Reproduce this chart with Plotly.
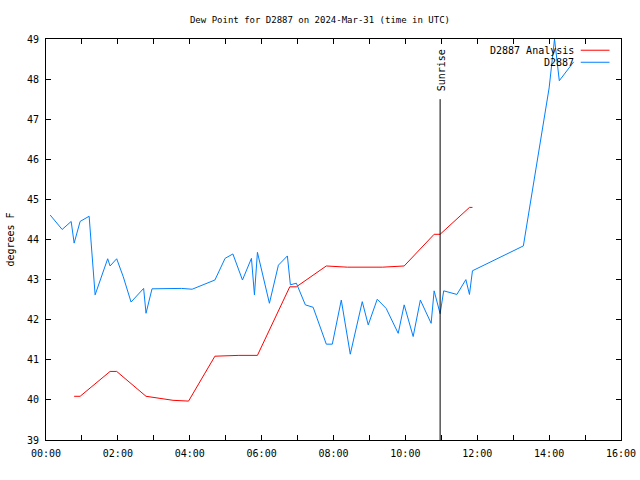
import plotly.graph_objects as go
from datetime import datetime, timedelta

DAY = "2024-03-31"

analysis_times = ["00:47", "00:57", "01:47", "01:58", "02:47", "03:02", "03:32", "03:58",
                  "04:42", "05:22", "05:53", "06:47", "06:58", "07:48", "08:23", "09:22",
                  "09:58", "10:48", "10:58", "11:47", "11:52"]
analysis_vals = [40.09, 40.09, 40.71, 40.71, 40.09, 40.06, 39.99, 39.97,
                 41.09, 41.11, 41.11, 42.82, 42.82, 43.34, 43.31, 43.31,
                 43.34, 44.13, 44.13, 44.80, 44.80]

obs_times = ["00:07", "00:27", "00:42", "00:47", "00:57", "01:12", "01:22", "01:43", "01:47",
             "01:58", "02:09", "02:22", "02:43", "02:47", "02:57", "03:46", "04:04", "04:42",
             "04:59", "05:12", "05:28", "05:43", "05:48", "05:53", "06:13", "06:28", "06:43",
             "06:48", "06:58", "07:13", "07:26", "07:48", "07:58", "08:13", "08:28", "08:48",
             "08:58", "09:13", "09:28", "09:48", "09:58", "10:13", "10:25", "10:43", "10:48",
             "10:58", "11:04", "11:26", "11:41", "11:47", "11:52", "13:17", "14:00", "14:09",
             "14:17", "14:41"]
obs_vals = [44.61, 44.25, 44.45, 43.91, 44.45, 44.58, 42.62, 43.52, 43.34,
            43.52, 43.07, 42.44, 42.78, 42.16, 42.77, 42.78, 42.76, 42.99,
            43.53, 43.64, 42.99, 43.53, 42.62, 43.68, 42.41, 43.36, 43.59,
            42.87, 42.91, 42.37, 42.31, 41.39, 41.39, 42.49, 41.14, 42.45,
            41.87, 42.51, 42.28, 41.66, 42.37, 41.58, 42.49, 41.91, 42.72,
            42.15, 42.72, 42.63, 43.00, 42.63, 43.22, 43.84, 47.78, 49.0,
            47.96, 48.43]

sunrise_time = "10:58"
sunrise_top = 47.5
tick_hours = list(range(0, 17))
y_ticks = list(range(39, 50))
title = "Dew Point for D2887 on 2024-Mar-31 (time in UTC)"
y_title = "degrees F"
names = ["D2887 Analysis", "D2887"]
colors = ["#ff0000", "#0080ff"]


def to_dt(s):
    return datetime.strptime(DAY + " " + s, "%Y-%m-%d %H:%M")


base = datetime.strptime(DAY, "%Y-%m-%d")
FONT = "DejaVu Sans Mono"
FS = 10

fig = go.Figure()
fig.add_trace(go.Scatter(x=[to_dt(t) for t in analysis_times], y=analysis_vals, mode="lines",
                         line=dict(color=colors[0], width=1), name=names[0], showlegend=False))
fig.add_trace(go.Scatter(x=[to_dt(t) for t in obs_times], y=obs_vals, mode="lines",
                         line=dict(color=colors[1], width=1), name=names[1], showlegend=False))

# sunrise line
sr = to_dt(sunrise_time)
fig.add_trace(go.Scatter(x=[sr, sr], y=[y_ticks[0], sunrise_top], mode="lines",
                         line=dict(color="black", width=1), showlegend=False, hoverinfo="skip"))
fig.add_annotation(x=sr, y=sunrise_top, xref="x", yref="y", text="Sunrise", textangle=-90,
                   showarrow=False, yanchor="bottom", yshift=6, xshift=1,
                   font=dict(family=FONT, size=FS, color="black"))

# gnuplot-style legend (text right, sample on right)
for i, (n, c) in enumerate(zip(names, colors)):
    yy = 0.972 - i * 0.03
    fig.add_annotation(x=0.922, y=yy, xref="paper", yref="paper", text=n, showarrow=False,
                       xanchor="right", yanchor="middle",
                       font=dict(family=FONT, size=FS, color="black"))
    fig.add_shape(type="line", xref="paper", yref="paper", x0=0.93, x1=0.98, y0=yy, y1=yy,
                  line=dict(color=c, width=1))

tickvals = [base + timedelta(hours=h) for h in tick_hours]
ticktext = [f"{h:02d}:00" if h % 2 == 0 else "" for h in tick_hours]

fig.update_layout(
    width=640, height=480,
    margin=dict(l=46, r=19, t=39, b=40, autoexpand=False),
    paper_bgcolor="white", plot_bgcolor="white",
    title=dict(text=title, x=0.5, xref="container", xanchor="center",
               y=1 - 20 / 480, yref="container", yanchor="middle",
               font=dict(family=FONT, size=9, color="black")),
    font=dict(family=FONT, size=FS, color="black"),
    xaxis=dict(type="date", range=[base, base + timedelta(hours=16)], automargin=False,
               tickvals=tickvals, ticktext=ticktext, ticks="inside", ticklen=5,
               tickcolor="black", showline=True, linecolor="black", linewidth=1,
               mirror="allticks", showgrid=False, zeroline=False, ticklabelstandoff=4),
    yaxis=dict(range=[39, 49], tickvals=y_ticks, ticks="inside", ticklen=5, tickcolor="black",
               showline=True, linecolor="black", linewidth=1, mirror="allticks",
               showgrid=False, zeroline=False, automargin=False, ticklabelstandoff=4,
               title=dict(text=y_title, standoff=10, font=dict(family=FONT, size=FS))),
)

fig.write_html("out.html", config={"displayModeBar": False},
               post_script="document.body.style.margin='0';")
